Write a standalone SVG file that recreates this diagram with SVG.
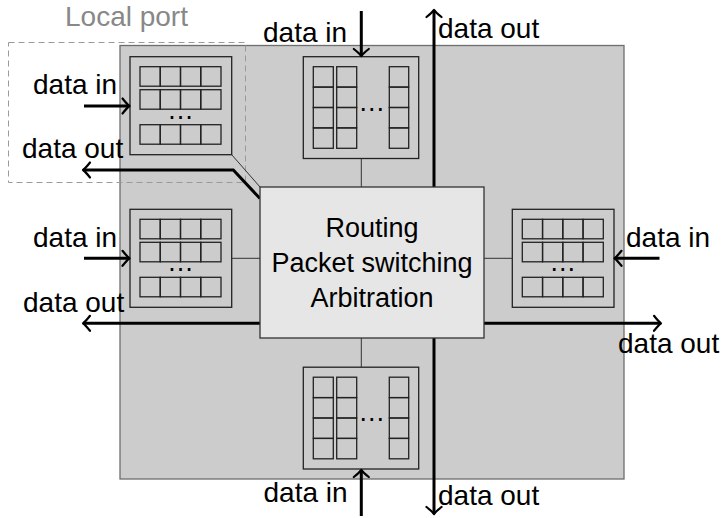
<svg xmlns="http://www.w3.org/2000/svg" width="725" height="518" viewBox="0 0 725 518">
<style>
text{font-family:"Liberation Sans",Arial,sans-serif;font-size:28px;fill:#000}
.lbl{font-size:28px}
.core{font-size:27px;text-anchor:middle}
.dots{font-size:27px;text-anchor:middle}
.outer{fill:none;stroke:#222;stroke-width:1.3}
.cell{fill:none;stroke:#222;stroke-width:1.3}
.thin{fill:none;stroke:#333;stroke-width:1}
.thick{fill:none;stroke:#000;stroke-width:3}
</style>
<defs>
<marker id="ah" markerUnits="userSpaceOnUse" viewBox="-10 -10 12 20" markerWidth="12" markerHeight="20" refX="0" refY="0" orient="auto" overflow="visible">
<path d="M-7,-7.5 Q-2.5,-1.8 0,0 Q-2.5,1.8 -7,7.5" fill="none" stroke="#000" stroke-width="2.2" stroke-linecap="round" stroke-linejoin="round"/>
</marker>
<g id="hbuf">
<rect class="outer" x="0" y="0" width="101.7" height="98"/>
<rect class="cell" x="10" y="10" width="20.25" height="19.5"/>
<rect class="cell" x="30.25" y="10" width="20.25" height="19.5"/>
<rect class="cell" x="50.5" y="10" width="20.25" height="19.5"/>
<rect class="cell" x="70.75" y="10" width="20.25" height="19.5"/>
<rect class="cell" x="10" y="33" width="20.25" height="19.5"/>
<rect class="cell" x="30.25" y="33" width="20.25" height="19.5"/>
<rect class="cell" x="50.5" y="33" width="20.25" height="19.5"/>
<rect class="cell" x="70.75" y="33" width="20.25" height="19.5"/>
<rect class="cell" x="10" y="68" width="20.25" height="19.5"/>
<rect class="cell" x="30.25" y="68" width="20.25" height="19.5"/>
<rect class="cell" x="50.5" y="68" width="20.25" height="19.5"/>
<rect class="cell" x="70.75" y="68" width="20.25" height="19.5"/>
<text class="dots" x="50.5" y="62">…</text>
</g>
<g id="vbuf">
<rect class="outer" x="0" y="0" width="115.4" height="101.8"/>
<rect class="cell" x="10" y="10" width="20" height="20.4"/>
<rect class="cell" x="10" y="30.4" width="20" height="20.4"/>
<rect class="cell" x="10" y="50.8" width="20" height="20.4"/>
<rect class="cell" x="10" y="71.2" width="20" height="20.4"/>
<rect class="cell" x="33.4" y="10" width="20" height="20.4"/>
<rect class="cell" x="33.4" y="30.4" width="20" height="20.4"/>
<rect class="cell" x="33.4" y="50.8" width="20" height="20.4"/>
<rect class="cell" x="33.4" y="71.2" width="20" height="20.4"/>
<rect class="cell" x="86" y="10" width="19.4" height="20.4"/>
<rect class="cell" x="86" y="30.4" width="19.4" height="20.4"/>
<rect class="cell" x="86" y="50.8" width="19.4" height="20.4"/>
<rect class="cell" x="86" y="71.2" width="19.4" height="20.4"/>
<text class="dots" x="68.4" y="54">…</text>
</g>
</defs>

<g id="router">
<rect x="120" y="45.5" width="504" height="433.5" fill="#cccccc" stroke="#6e6e6e" stroke-width="1.3"/>
</g>

<g id="local-port">
<rect x="8.5" y="42.5" width="237" height="140" fill="none" stroke="#9a9a9a" stroke-width="1" stroke-dasharray="6,4"/>
<text x="65" y="26" style="fill:#888">Local port</text>
</g>

<g id="buf-local"><use href="#hbuf" x="130" y="56.7"/></g>
<g id="buf-west"><use href="#hbuf" x="130" y="209.3"/></g>
<g id="buf-east"><use href="#hbuf" x="512.3" y="209.3"/></g>
<g id="buf-north"><use href="#vbuf" x="303.3" y="56.7"/></g>
<g id="buf-south"><use href="#vbuf" x="303.3" y="367.2"/></g>

<g id="connectors">
<line class="thin" x1="361.3" y1="158.5" x2="361.3" y2="187"/>
<line class="thin" x1="361.3" y1="338" x2="361.3" y2="367.2"/>
<line class="thin" x1="231.7" y1="258.3" x2="260" y2="258.3"/>
<line class="thin" x1="484" y1="258.3" x2="512.3" y2="258.3"/>
<line class="thin" x1="231.7" y1="154.7" x2="260" y2="187"/>
<line class="thick" x1="434" y1="190" x2="434" y2="10" marker-end="url(#ah)"/>
<line class="thick" x1="434" y1="335" x2="434" y2="514" marker-end="url(#ah)"/>
<line class="thick" x1="263" y1="323.3" x2="83" y2="323.3" marker-end="url(#ah)"/>
<line class="thick" x1="481" y1="323.3" x2="661" y2="323.3" marker-end="url(#ah)"/>
<polyline class="thick" points="260,198.5 233.3,170 83,170" marker-end="url(#ah)"/>
<line class="thick" x1="361.3" y1="11" x2="361.3" y2="56" marker-end="url(#ah)"/>
<line class="thick" x1="361.3" y1="516" x2="361.3" y2="470" marker-end="url(#ah)"/>
<line class="thick" x1="84" y1="106" x2="129.5" y2="106" marker-end="url(#ah)"/>
<line class="thick" x1="84" y1="258.3" x2="129.5" y2="258.3" marker-end="url(#ah)"/>
<line class="thick" x1="659.5" y1="258.3" x2="614.5" y2="258.3" marker-end="url(#ah)"/>
</g>

<g id="core">
<rect x="260" y="187" width="224" height="151" fill="#e6e6e6" stroke="#333" stroke-width="1.3"/>
<text class="core" x="372" y="236.7">Routing</text>
<text class="core" x="372" y="271.7">Packet switching</text>
<text class="core" x="372" y="306.7">Arbitration</text>
</g>

<g id="labels">
<text x="263" y="42">data in</text>
<text x="438" y="37.7">data out</text>
<text x="33" y="94">data in</text>
<text x="22" y="158.3">data out</text>
<text x="33" y="246.7">data in</text>
<text x="23" y="311.7">data out</text>
<text x="626" y="246.7">data in</text>
<text x="618" y="353.3">data out</text>
<text x="263.5" y="501.7">data in</text>
<text x="438" y="505">data out</text>
</g>
</svg>
